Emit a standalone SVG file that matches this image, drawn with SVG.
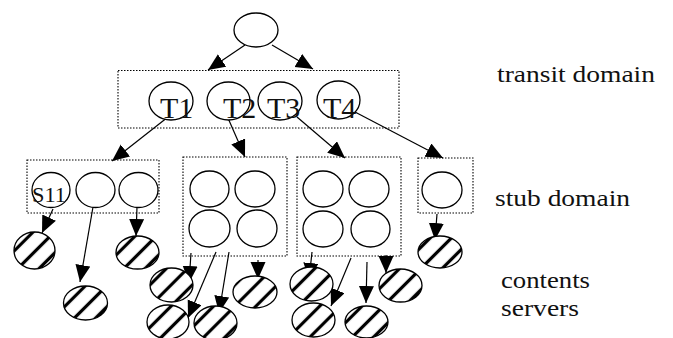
<svg xmlns="http://www.w3.org/2000/svg" width="673" height="338" viewBox="0 0 673 338">
<style>
.n{fill:#fff;stroke:#000;stroke-width:1.3}
.h{fill:url(#hatch);stroke:#000;stroke-width:1.3}
.box{fill:none;stroke:#000;stroke-width:1.1;stroke-dasharray:1.5 1.5}
.c{fill:none;stroke:#000;stroke-width:1.2;marker-end:url(#ah)}
text{font-family:'Liberation Serif','DejaVu Serif',serif;fill:#111}
.big{font-size:30px}
.lab{font-size:24px}
</style>
<defs>
<pattern id="hatch" patternUnits="userSpaceOnUse" width="15" height="15" patternTransform="rotate(45)">
<rect width="15" height="15" fill="#fff"/>
<line x1="7.5" y1="0" x2="7.5" y2="15" stroke="#000" stroke-width="3.2"/>
</pattern>
<marker id="ah" markerUnits="userSpaceOnUse" markerWidth="18" markerHeight="16" refX="17" refY="7.5" orient="auto">
<path d="M0,0 L17,7.5 L0,15 z" fill="#000"/>
</marker>
</defs>

<g id="connectors">
<line class="c" x1="245" y1="45" x2="208" y2="70"/>
<line class="c" x1="272" y1="45" x2="313" y2="69"/>
<line class="c" x1="168" y1="117" x2="112" y2="161"/>
<line class="c" x1="228" y1="118" x2="245" y2="157"/>
<line class="c" x1="297" y1="117" x2="345" y2="158"/>
<line class="c" x1="355" y1="112" x2="443" y2="158"/>
<line class="c" x1="53" y1="209" x2="42" y2="233"/>
<line class="c" x1="93" y1="207" x2="80" y2="282"/>
<line class="c" x1="137" y1="207" x2="136" y2="236"/>
<line class="c" x1="191" y1="253" x2="189" y2="283"/>
<line class="c" x1="216" y1="252" x2="188" y2="318"/>
<line class="c" x1="229" y1="252" x2="219" y2="313"/>
<line class="c" x1="258" y1="260" x2="258" y2="279"/>
<line class="c" x1="312" y1="252" x2="309" y2="280"/>
<line class="c" x1="351" y1="258" x2="331" y2="306"/>
<line class="c" x1="367" y1="262" x2="366" y2="303"/>
<line class="c" x1="386" y1="255" x2="386" y2="273"/>
<line class="c" x1="437" y1="214" x2="435" y2="240"/>
</g>

<g id="root"><ellipse class="n" cx="256" cy="30" rx="22" ry="17"/></g>

<g id="transit">
<rect class="box" x="118" y="70.5" width="281" height="57.5"/>
</g>
<g id="T1"><ellipse class="n" cx="171" cy="101" rx="22" ry="19"/><text class="big" font-family="Liberation Serif, serif" x="160" y="118">T1</text></g>
<g id="T2"><ellipse class="n" cx="228.5" cy="101" rx="21.5" ry="19"/><text class="big" font-family="Liberation Serif, serif" x="223" y="118">T2</text></g>
<g id="T3"><ellipse class="n" cx="280" cy="101" rx="22" ry="19"/><text class="big" font-family="Liberation Serif, serif" x="267" y="118">T3</text></g>
<g id="T4"><ellipse class="n" cx="338.5" cy="100" rx="21.5" ry="19"/><text class="big" font-family="Liberation Serif, serif" x="323" y="118">T4</text></g>

<g id="stub1">
<rect class="box" x="27" y="160" width="132" height="53"/>
<ellipse class="n" cx="51" cy="190" rx="19" ry="17.5"/>
<text font-family="Liberation Serif, serif" x="32" y="202" font-size="22" textLength="34" lengthAdjust="spacingAndGlyphs">S11</text>
<ellipse class="n" cx="95.5" cy="190" rx="19.5" ry="17.5"/>
<ellipse class="n" cx="138.5" cy="190" rx="19.5" ry="17.5"/>
</g>
<g id="stub2">
<rect class="box" x="183" y="157" width="104" height="99"/>
<ellipse class="n" cx="209.5" cy="189" rx="19.5" ry="18"/>
<ellipse class="n" cx="255" cy="189" rx="20" ry="18"/>
<ellipse class="n" cx="209.5" cy="228.5" rx="20.5" ry="18.5"/>
<ellipse class="n" cx="257" cy="228.5" rx="20" ry="18.5"/>
</g>
<g id="stub3">
<rect class="box" x="297" y="157" width="104" height="99"/>
<ellipse class="n" cx="323" cy="189" rx="20" ry="18"/>
<ellipse class="n" cx="369" cy="189" rx="20" ry="18"/>
<ellipse class="n" cx="323" cy="229" rx="20" ry="18"/>
<ellipse class="n" cx="370.5" cy="229" rx="19.5" ry="18"/>
</g>
<g id="stub4">
<rect class="box" x="418" y="158" width="55" height="55"/>
<ellipse class="n" cx="442" cy="190" rx="20" ry="18"/>
</g>

<g id="servers">
<ellipse class="h" cx="34.5" cy="250.5" rx="20.5" ry="18.5"/>
<ellipse class="h" cx="85.5" cy="303" rx="22" ry="17"/>
<ellipse class="h" cx="137.5" cy="252.5" rx="21.5" ry="16.5"/>
<ellipse class="h" cx="171.5" cy="285" rx="21.5" ry="17"/>
<ellipse class="h" cx="168" cy="322" rx="21" ry="17"/>
<ellipse class="h" cx="215.5" cy="323" rx="21.5" ry="17"/>
<ellipse class="h" cx="255" cy="292" rx="22" ry="16"/>
<ellipse class="h" cx="311.5" cy="284" rx="21.5" ry="17"/>
<ellipse class="h" cx="313.5" cy="320" rx="21.5" ry="17"/>
<ellipse class="h" cx="366.5" cy="322" rx="21.5" ry="16"/>
<ellipse class="h" cx="400.5" cy="285.5" rx="21.5" ry="16.5"/>
<ellipse class="h" cx="440" cy="252" rx="22" ry="16"/>
</g>

<g id="labels">
<text class="lab" font-family="Liberation Serif, serif" x="497" y="82" textLength="158" lengthAdjust="spacingAndGlyphs">transit  domain</text>
<text class="lab" font-family="Liberation Serif, serif" x="495" y="206" textLength="135" lengthAdjust="spacingAndGlyphs">stub  domain</text>
<text class="lab" font-family="Liberation Serif, serif" x="501" y="288" textLength="89" lengthAdjust="spacingAndGlyphs">contents</text>
<text class="lab" font-family="Liberation Serif, serif" x="501" y="316" textLength="78" lengthAdjust="spacingAndGlyphs">servers</text>
</g>
</svg>
